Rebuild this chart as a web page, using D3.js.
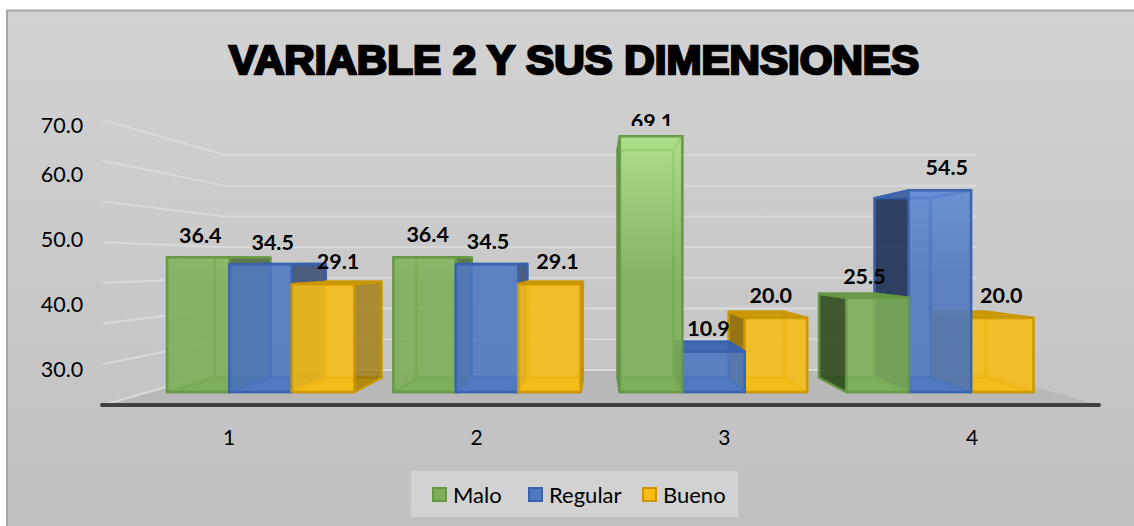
<!DOCTYPE html>
<html>
<head>
<meta charset="utf-8">
<title>Variable 2 y sus dimensiones</title>
<script src="https://d3js.org/d3.v7.min.js"></script>
<style>
html, body { margin: 0; padding: 0; background: #fff; }
svg { display: block; }
text { font-family: Lato, "Open Sans", sans-serif; fill: #000; }
</style>
</head>
<body>
<div id="plot"></div>
<script>
var categories = ["1", "2", "3", "4"];
var seriesNames = ["Malo", "Regular", "Bueno"];
var malo = [36.4, 36.4, 69.1, 25.5];
var regular = [34.5, 34.5, 10.9, 54.5];
var bueno = [29.1, 29.1, 20.0, 20.0];
var tickLabels = [30, 40, 50, 60, 70];
var gridValues = [0, 10, 20, 30, 40, 50, 60, 70];

var width = 1134, height = 526;

var svg = d3.select("#plot").append("svg")
.attr("width", width).attr("height", height);
var defs = svg.append("defs");

var bg = defs.append("linearGradient").attr("id", "bg")
.attr("x1", 0).attr("x2", 0).attr("y1", 0).attr("y2", 1);
bg.append("stop").attr("offset", "0").attr("stop-color", "#d2d2d2");
bg.append("stop").attr("offset", "1").attr("stop-color", "#c0c0c0");

var colors = {
  Malo: { top: "#abe084", low: "#7dae58", line: "#659845", dark: "#2b451b" },
  Regular: { top: "#6a94de", low: "#4f78bf", line: "#3763ae", dark: "#1b2c52" },
  Bueno: { top: "#ffcb22", low: "#f6bd16", line: "#c99600", dark: "#8a6700" }
};

// bar height is front plane, y runs along the front of the bars
var yFront = d3.scaleLinear().domain([0, 70]).range([392, 133]);
// the back wall and the left wall have their own spacing
var yBack = d3.scaleLinear().domain([0, 70]).range([370, 155]);
var yLeft = d3.scaleLinear().domain([0, 70]).range([405, 120]);
// labels in the picture are not evenly spaced so this one is piecewise
var yTick = d3.scaleLinear().domain([30, 60, 70]).range([368, 173, 124]);

var xGroup = d3.scaleBand().domain(categories).range([147.5, 1053])
.paddingInner(0.173).paddingOuter(0.0865);
var xSeries = d3.scaleBand().domain(seriesNames).range([0, xGroup.bandwidth()]);
var xLabel = d3.scalePoint().domain(categories).range([229, 972]);

var values = { Malo: malo, Regular: regular, Bueno: bueno };

// perspective, back face of a bar is the front one shrunk to this point
var vx = 600, vy = 262, depth = 0.89;
function back(x, y) {
  return [vx + (x - vx) * depth, vy + (y - vy) * depth];
}

seriesNames.forEach(function (name) {
  var g = defs.append("linearGradient").attr("id", "fill" + name)
  .attr("gradientUnits", "userSpaceOnUse")
  .attr("x1", 0).attr("x2", 0).attr("y1", yFront(70)).attr("y2", yFront(30));
  g.append("stop").attr("offset", "0").attr("stop-color", colors[name].top);
  g.append("stop").attr("offset", "1").attr("stop-color", colors[name].low);
});

var clip = defs.append("clipPath").attr("id", "cutTop");
clip.append("rect").attr("x", 0).attr("y", 0).attr("width", width).attr("height", 126);

// panel
svg.append("rect")
.attr("x", 7).attr("y", 10.5).attr("width", width + 10).attr("height", height)
.attr("fill", "url(#bg)").attr("stroke", "#a6a6a6").attr("stroke-width", 2);

// title
svg.append("text")
.attr("x", 574).attr("y", 73.5)
.attr("text-anchor", "middle")
.attr("textLength", 690).attr("lengthAdjust", "spacingAndGlyphs")
.style("font-family", "'Liberation Sans', Arial, sans-serif")
.style("font-size", "40px").style("font-weight", "bold")
.style("stroke", "#000").style("stroke-width", 2.5)
.text("VARIABLE 2 Y SUS DIMENSIONES");

// floor
var wallX = 103, cornerX = 225, cornerRight = 976;
svg.append("path")
.attr("fill", "#b8b8b8")
.attr("d", d3.line()([
  [wallX, yLeft(0)], [cornerX, yBack(0)], [cornerRight, yBack(0)], [1098, yLeft(0)]
]) + "Z");

// grid, left wall then back wall
var grid = svg.append("g").attr("fill", "none")
.attr("stroke", "#d9d9d9").attr("stroke-width", 2);
grid.selectAll("path").data(gridValues).enter().append("path")
.attr("d", function (v) {
  return d3.line()([[wallX, yLeft(v)], [cornerX, yBack(v)], [cornerRight, yBack(v)]]);
});

// front edge of the floor
svg.append("line")
.attr("x1", 102).attr("x2", 1099)
.attr("y1", yLeft(0)).attr("y2", yLeft(0))
.attr("stroke", "#404040").attr("stroke-width", 4).attr("stroke-linecap", "round");

function face(g, pts, fill, opacity, stroke) {
  g.append("path")
  .attr("d", d3.line()(pts) + "Z")
  .attr("fill", fill).attr("fill-opacity", opacity)
  .attr("stroke", stroke).attr("stroke-width", 2.5)
  .attr("stroke-opacity", 0.85).attr("stroke-linejoin", "round");
}

function drawBar(g, cat, name) {
  var i = categories.indexOf(cat);
  var c = colors[name];
  var fill = "url(#fill" + name + ")";
  var x0 = xGroup(cat) + xSeries(name);
  var x1 = x0 + xSeries.bandwidth();
  var y0 = yFront(0);
  var y1 = yFront(values[name][i]);
  var a = [x0, y1], b = [x1, y1], d = [x1, y0], e = [x0, y0];
  var a2 = back(x0, y1), b2 = back(x1, y1), d2 = back(x1, y0), e2 = back(x0, y0);

  // back, floor
  face(g, [a2, b2, d2, e2], fill, 0.35, c.line);
  face(g, [e, d, d2, e2], fill, 0.9, c.line);

  // sides turned to the viewer get the dark colour, the rest are seen through the bar
  face(g, [a, a2, e2, e], x0 > vx ? c.dark : fill, x0 > vx ? 0.85 : 0.3, c.line);
  face(g, [b, b2, d2, d], x1 < vx ? c.dark : fill, x1 < vx ? 0.62 : 0.3, c.line);
  face(g, [a, b, b2, a2], y1 > vy ? c.line : fill, y1 > vy ? 0.9 : 0.5, c.line);

  // front
  face(g, [a, b, d, e], fill, 0.84, c.line);
}

// left groups are painted left to right, the ones past the centre right to left
categories.forEach(function (cat, i) {
  var g = svg.append("g");
  var order = i < 2 ? seriesNames : seriesNames.slice().reverse();
  order.forEach(function (name) { drawBar(g, cat, name); });
});

// hand nudges for the value labels, one row per category
var labelNudge = [
  [[2, -22], [12, -22], [15, -23]],
  [[3, -23], [1, -23], [8, -23]],
  [[1, -15], [-5, -23], [-5, -23]],
  [[-13, -21], [7, -23], [-1, -23]]
];

categories.forEach(function (cat, i) {
  seriesNames.forEach(function (name, s) {
    var v = values[name][i];
    svg.append("text")
    .attr("x", xGroup(cat) + xSeries(name) + xSeries.bandwidth() / 2 + labelNudge[i][s][0])
    .attr("y", yFront(v) + labelNudge[i][s][1])
    .attr("text-anchor", "middle").attr("dy", "0.35em")
    .attr("clip-path", v > 60 ? "url(#cutTop)" : null)
    .style("font-size", "21.5px").style("font-weight", "bold")
    .text(d3.format(".1f")(v));
  });
});

// y labels
svg.selectAll("text.tick").data(tickLabels).enter().append("text")
.attr("class", "tick")
.attr("x", 62).attr("y", yTick)
.attr("text-anchor", "middle").attr("dy", "0.4em")
.style("font-size", "21.5px")
.text(d3.format(".1f"));

// x labels
svg.selectAll("text.cat").data(categories).enter().append("text")
.attr("class", "cat")
.attr("x", function (d) { return xLabel(d); }).attr("y", 437.5)
.attr("text-anchor", "middle").attr("dy", "0.35em")
.style("font-size", "21px")
.text(function (d) { return d; });

// legend
svg.append("rect")
.attr("x", 411).attr("y", 471).attr("width", 327).attr("height", 46)
.attr("fill", "#d2d2d2");

var legendX = d3.scaleOrdinal().domain(seriesNames).range([432, 528, 642]);
var legend = svg.selectAll("g.legend").data(seriesNames).enter().append("g")
.attr("class", "legend")
.attr("transform", function (d) { return "translate(" + legendX(d) + ",487)"; });
legend.append("rect")
.attr("x", 1).attr("y", 1).attr("width", 13).attr("height", 13)
.attr("fill", function (d) { return colors[d].low; })
.attr("stroke", function (d) { return colors[d].line; })
.attr("stroke-width", 2);
legend.append("text")
.attr("x", 21).attr("y", 8).attr("dy", "0.35em")
.style("font-size", "22px")
.text(function (d) { return d; });
</script>
</body>
</html>
